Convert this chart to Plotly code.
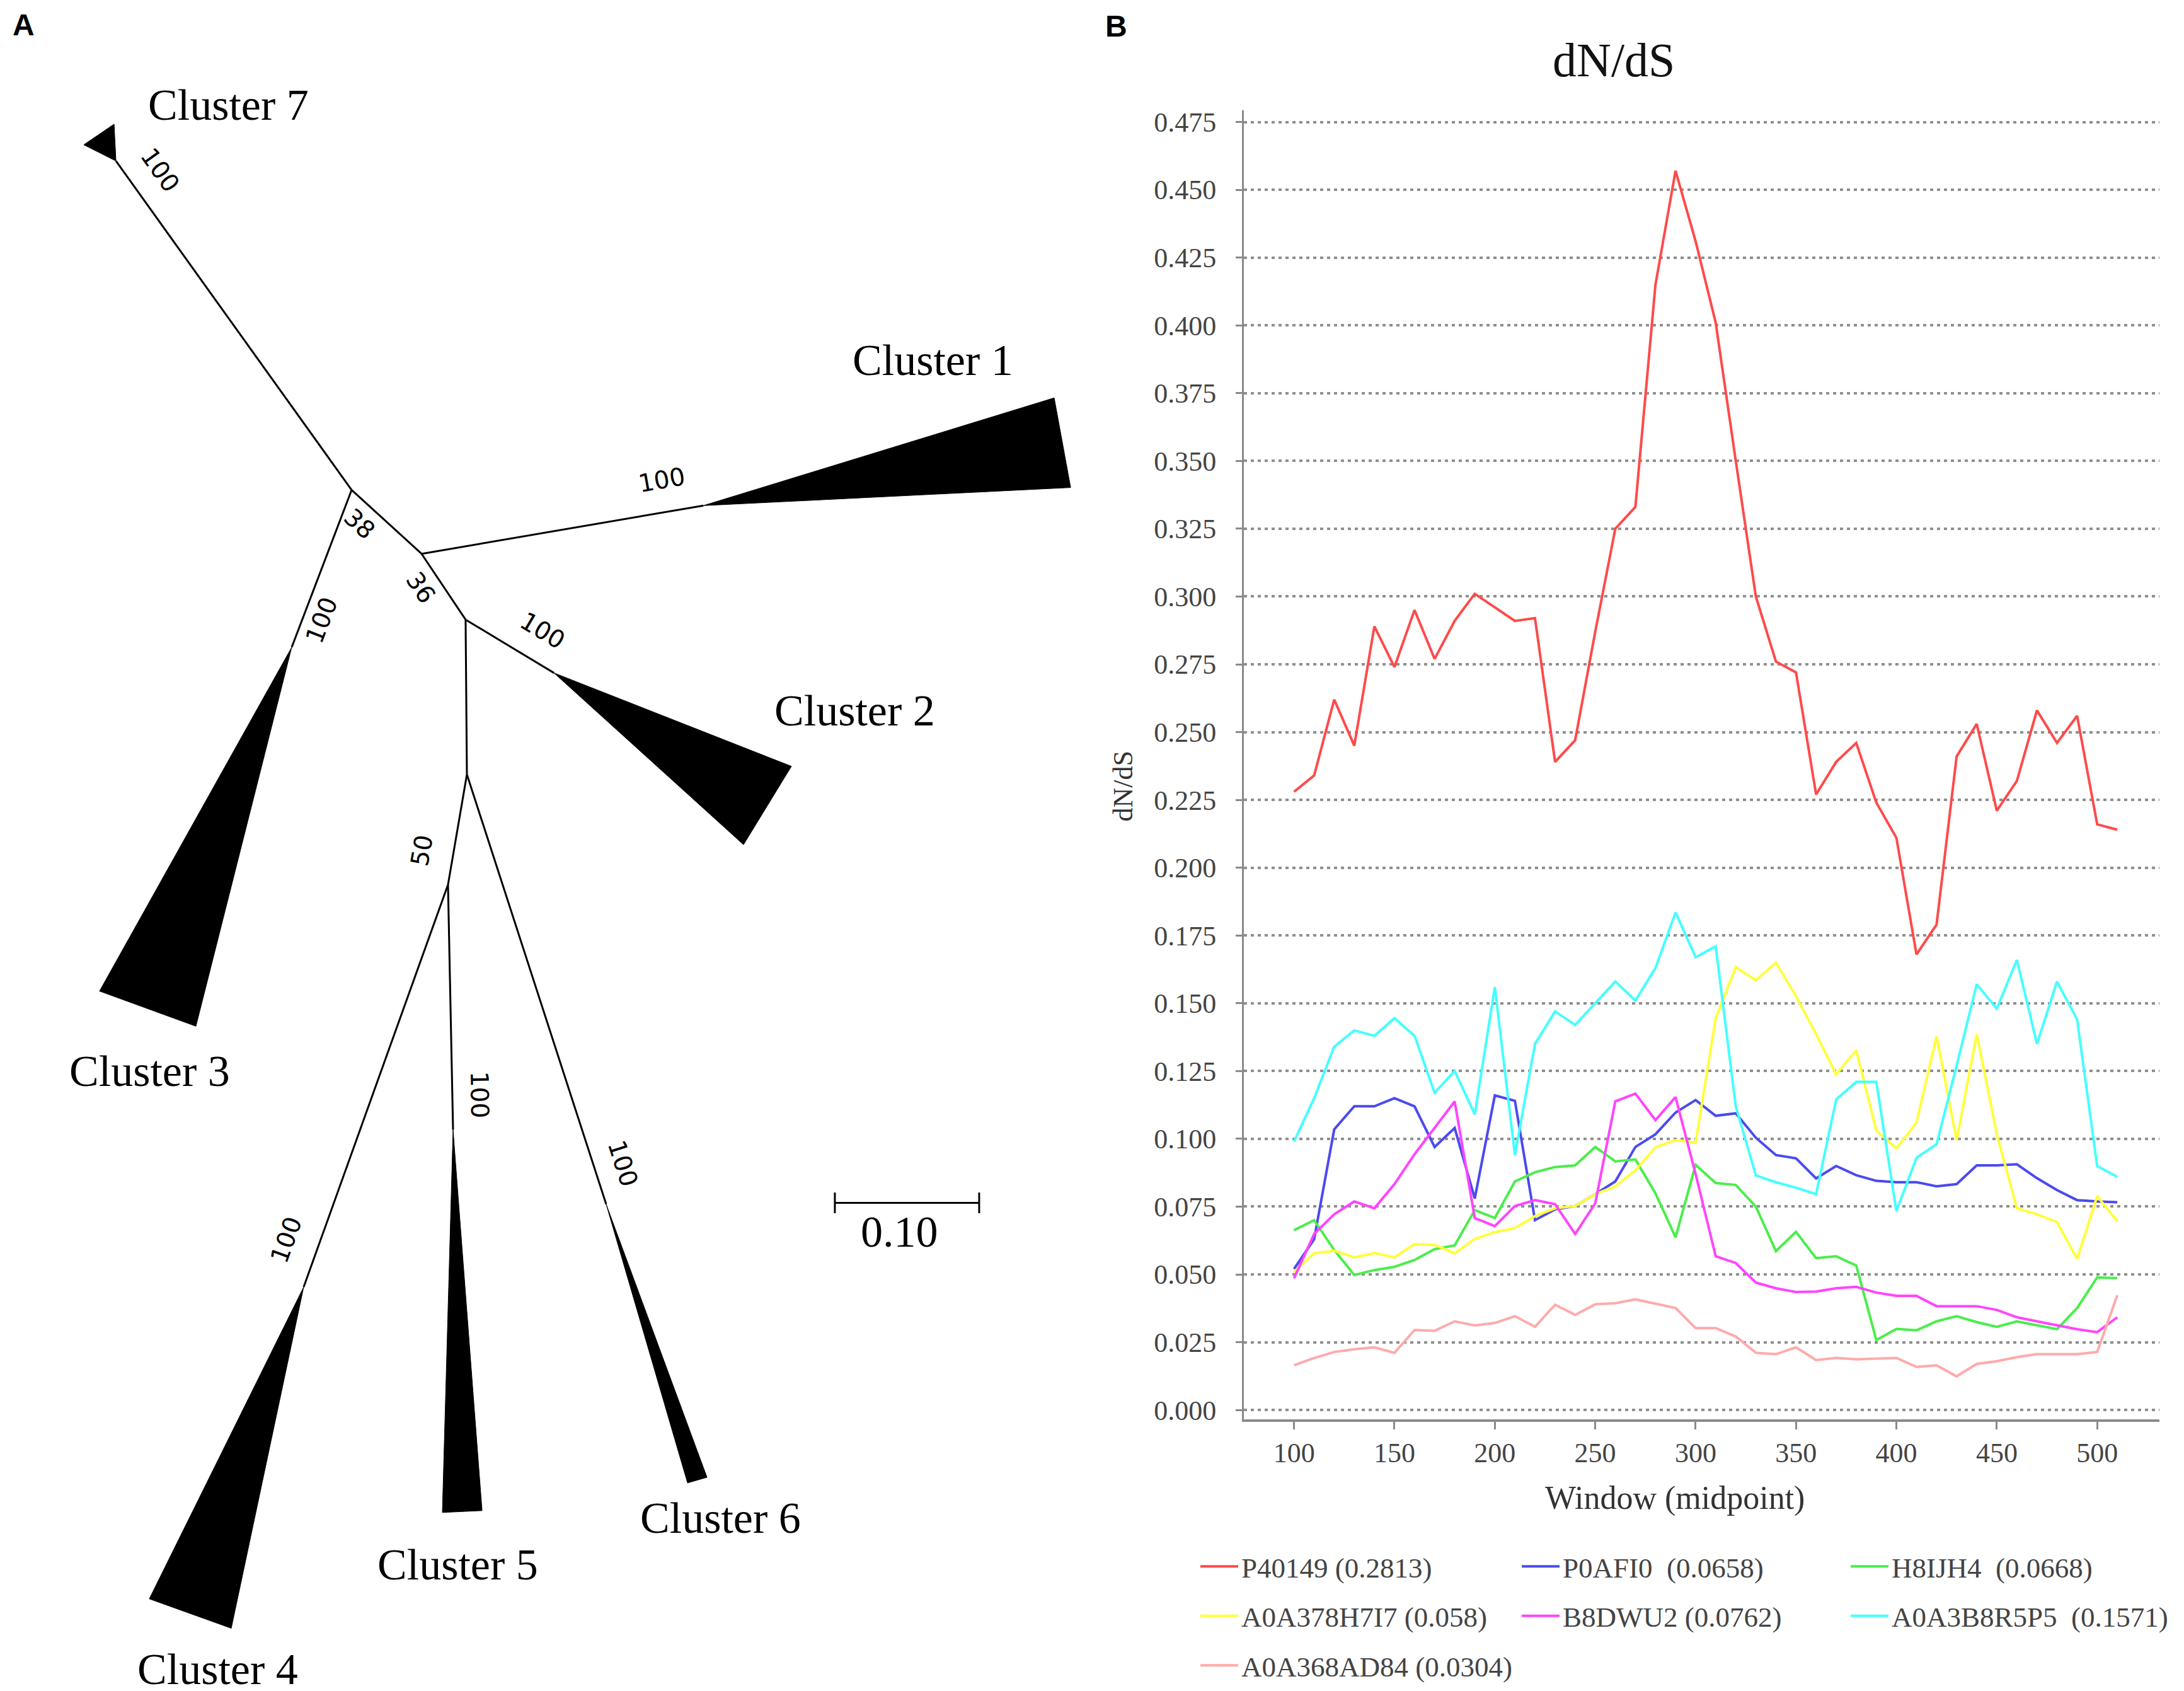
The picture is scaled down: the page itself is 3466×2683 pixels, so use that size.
import plotly.graph_objects as go

# ---------------- Panel B data: dN/dS sliding windows ----------------
window_mid = [100, 110, 120, 130, 140, 150, 160, 170, 180, 190, 200, 210, 220, 230,
              240, 250, 260, 270, 280, 290, 300, 310, 320, 330, 340, 350, 360, 370,
              380, 390, 400, 410, 420, 430, 440, 450, 460, 470, 480, 490, 500, 510]

p40149 = [0.228, 0.234, 0.262, 0.245, 0.289, 0.274, 0.295, 0.277, 0.291, 0.301, 0.296, 0.291,
          0.292, 0.239, 0.247, 0.287, 0.325, 0.333, 0.415, 0.457, 0.431, 0.401, 0.350, 0.300,
          0.276, 0.272, 0.227, 0.239, 0.246, 0.224, 0.211, 0.168, 0.179, 0.241, 0.253, 0.221,
          0.232, 0.258, 0.246, 0.256, 0.216, 0.214]
p0afi0 = [0.052, 0.063, 0.1035, 0.112, 0.112, 0.115, 0.112, 0.097, 0.104, 0.078, 0.116, 0.114,
          0.070, 0.074, 0.0752, 0.0796, 0.0843, 0.097, 0.1017, 0.1097, 0.1143, 0.1085, 0.1094, 0.1004,
          0.094, 0.0928, 0.0854, 0.090, 0.0866, 0.0845, 0.084, 0.084, 0.0825, 0.0833, 0.0902, 0.0902,
          0.0906, 0.0855, 0.0811, 0.0774, 0.0769, 0.0766]
h8ijh4 = [0.0663, 0.070, 0.059, 0.0498, 0.0516, 0.0528, 0.0553, 0.0593, 0.0607, 0.0737, 0.0708, 0.0843,
          0.0877, 0.0896, 0.0902, 0.097, 0.0917, 0.0924, 0.0799, 0.0637, 0.0904, 0.0837, 0.0830, 0.075,
          0.0586, 0.0657, 0.056, 0.0567, 0.0533, 0.0258, 0.0299, 0.0294, 0.0327, 0.0346, 0.0324, 0.0307,
          0.0327, 0.0312, 0.0298, 0.0376, 0.0489, 0.0486]
a0a378h7i7 = [0.0509, 0.0578, 0.0587, 0.0563, 0.0579, 0.0563, 0.0612, 0.0609, 0.0578, 0.0631, 0.0656, 0.0671,
              0.0715, 0.0744, 0.0752, 0.0796, 0.0825, 0.0884, 0.0969, 0.0995, 0.0986, 0.1445, 0.1633, 0.1585,
              0.165, 0.1526, 0.1386, 0.1238, 0.1327, 0.103, 0.0965, 0.106, 0.1378, 0.0995, 0.1386, 0.1017,
              0.0744, 0.0722, 0.0693, 0.0557, 0.0789, 0.0696]
b8dwu2 = [0.0486, 0.0649, 0.0722, 0.0769, 0.0744, 0.0833, 0.0943, 0.1039, 0.1138, 0.0708, 0.0678, 0.0752,
          0.0774, 0.0759, 0.0649, 0.0762, 0.1138, 0.1167, 0.1069, 0.1154, 0.087, 0.0567, 0.0542, 0.047,
          0.0449, 0.0435, 0.0437, 0.0449, 0.0454, 0.0433, 0.0421, 0.0421, 0.0383, 0.0383, 0.0383, 0.0369,
          0.0342, 0.0327, 0.0312, 0.0298, 0.0287, 0.0342]
a0a3b8r5p5 = [0.099, 0.115, 0.134, 0.140, 0.138, 0.1445, 0.138, 0.117, 0.125, 0.109, 0.156, 0.094,
              0.135, 0.147, 0.142, 0.150, 0.158, 0.151, 0.163, 0.1835, 0.167, 0.171, 0.112, 0.0865,
              0.084, 0.082, 0.0796, 0.1145, 0.121, 0.121, 0.0734, 0.093, 0.098, 0.127, 0.157, 0.148,
              0.166, 0.135, 0.158, 0.144, 0.090, 0.086]
a0a368ad84 = [0.0165, 0.0192, 0.0214, 0.0224, 0.0231, 0.0211, 0.0295, 0.0292, 0.0327, 0.0312, 0.0321, 0.0346,
              0.0307, 0.0388, 0.0351, 0.039, 0.0394, 0.0408, 0.0392, 0.0376, 0.0302, 0.0302, 0.0271, 0.0211,
              0.0206, 0.0231, 0.0184, 0.0192, 0.0187, 0.0189, 0.0192, 0.0159, 0.0165, 0.0124, 0.017, 0.018,
              0.0195, 0.0206, 0.0206, 0.0206, 0.0214, 0.0423]

series_names = ["P40149 (0.2813)", "P0AFI0\u00a0 (0.0658)", "H8IJH4\u00a0 (0.0668)",
                "A0A378H7I7 (0.058)", "B8DWU2 (0.0762)", "A0A3B8R5P5\u00a0 (0.1571)",
                "A0A368AD84 (0.0304)"]
series_values = [p40149, p0afi0, h8ijh4, a0a378h7i7, b8dwu2, a0a3b8r5p5, a0a368ad84]
series_colors = ["#ff4a4a", "#4a4af0", "#4aee4a", "#ffff3a", "#ff44ff", "#44ffff", "#ffaaaa"]
series_legend = ["legend", "legend2", "legend3", "legend", "legend2", "legend3", "legend"]

y_ticks = [0.000, 0.025, 0.050, 0.075, 0.100, 0.125, 0.150, 0.175, 0.200, 0.225, 0.250,
           0.275, 0.300, 0.325, 0.350, 0.375, 0.400, 0.425, 0.450, 0.475]
x_ticks = [100, 150, 200, 250, 300, 350, 400, 450, 500]

# ---------------- Panel A data: unrooted tree (branch-length units) ----------------
node_names = ["A", "B", "C", "D", "E"]
node_x = [0.0, 0.0485, 0.0790, 0.0799, 0.0668]
node_y = [0.0, -0.0445, -0.0904, -0.1983, -0.2751]
internal_edges = [("A", "B"), ("B", "C"), ("C", "D"), ("D", "E")]

clusters = ["Cluster 1", "Cluster 2", "Cluster 3", "Cluster 4", "Cluster 5", "Cluster 6", "Cluster 7"]
clade_parent = ["B", "C", "A", "E", "E", "D", "A"]
clade_apex_x = [0.2437, 0.1402, -0.0415, -0.0332, 0.0703, 0.1764, -0.1633]
clade_apex_y = [-0.0109, -0.1275, -0.1096, -0.5555, -0.4459, -0.4978, 0.2293]
clade_tip1_x = [0.4869, 0.3048, -0.1747, -0.1402, 0.0629, 0.2463, -0.1856]
clade_tip1_y = [0.0642, -0.1926, -0.3493, -0.7729, -0.7127, -0.6882, 0.2406]
clade_tip2_x = [0.4983, 0.2716, -0.1079, -0.0834, 0.0904, 0.2328, -0.1646]
clade_tip2_y = [0.0017, -0.2472, -0.3738, -0.7934, -0.7114, -0.6921, 0.2550]
cluster_label_x = [0.4030, 0.3485, -0.1400, -0.0928, 0.0735, 0.2558, -0.0852]
cluster_label_y = [0.0905, -0.1538, -0.4051, -0.8218, -0.7489, -0.7166, 0.2683]

bootstrap_values = ["100", "100", "38", "36", "100", "100", "50", "100", "100", "100"]
bootstrap_x = [-0.1328, 0.2150, 0.0057, 0.0480, -0.0210, 0.1324, 0.0485, 0.0886, 0.1878, -0.0454]
bootstrap_y = [0.2231, 0.0070, -0.0236, -0.0681, -0.0908, -0.0979, -0.2511, -0.4214, -0.4694, -0.5227]
bootstrap_angle = [54.5, -10, 43, 56, -69, 31, -80, 89, 72, -70]

scale_bar_x0 = 0.3349
scale_bar_y = -0.4969
scale_bar_len = 0.10
scale_bar_label = "0.10"

# ---------------- Figure ----------------
W, H = 3466, 2683
SERIF = "Liberation Serif"
fig = go.Figure()

# Panel B lines
for name, vals, col, lg in zip(series_names, series_values, series_colors, series_legend):
    fig.add_trace(go.Scatter(x=window_mid, y=vals, mode="lines", name=name, legendgroup=name,
                             line=dict(color=col, width=4), legend=lg,
                             xaxis="x", yaxis="y", hoverinfo="skip"))

# Panel A tree
node_pos = {n: (x, y) for n, x, y in zip(node_names, node_x, node_y)}
ex, ey = [], []
for a, b in internal_edges:
    ex += [node_pos[a][0], node_pos[b][0], None]
    ey += [node_pos[a][1], node_pos[b][1], None]
for i in range(len(clusters)):
    px_, py_ = node_pos[clade_parent[i]]
    ex += [px_, clade_apex_x[i], None]
    ey += [py_, clade_apex_y[i], None]
fig.add_trace(go.Scatter(x=ex, y=ey, mode="lines", line=dict(color="black", width=3),
                         xaxis="x2", yaxis="y2", showlegend=False, hoverinfo="skip"))
for i in range(len(clusters)):
    fig.add_trace(go.Scatter(
        x=[clade_apex_x[i], clade_tip1_x[i], clade_tip2_x[i], clade_apex_x[i]],
        y=[clade_apex_y[i], clade_tip1_y[i], clade_tip2_y[i], clade_apex_y[i]],
        mode="lines", fill="toself", fillcolor="black", line=dict(color="black", width=1),
        xaxis="x2", yaxis="y2", showlegend=False, hoverinfo="skip"))

# scale bar
tick_h = 0.0072
fig.add_trace(go.Scatter(
    x=[scale_bar_x0, scale_bar_x0 + scale_bar_len, None, scale_bar_x0, scale_bar_x0, None,
       scale_bar_x0 + scale_bar_len, scale_bar_x0 + scale_bar_len],
    y=[scale_bar_y, scale_bar_y, None, scale_bar_y - tick_h, scale_bar_y + tick_h, None,
       scale_bar_y - tick_h, scale_bar_y + tick_h],
    mode="lines", line=dict(color="black", width=3),
    xaxis="x2", yaxis="y2", showlegend=False, hoverinfo="skip"))

annotations = []
for lab, lx, ly in zip(clusters, cluster_label_x, cluster_label_y):
    annotations.append(dict(x=lx, y=ly, xref="x2", yref="y2", text=lab, showarrow=False,
                            xanchor="center", yanchor="middle",
                            font=dict(family=SERIF, size=70, color="black")))
for v, bx, by, ang in zip(bootstrap_values, bootstrap_x, bootstrap_y, bootstrap_angle):
    annotations.append(dict(x=bx, y=by, xref="x2", yref="y2", text=v, showarrow=False,
                            xanchor="center", yanchor="middle",
                            textangle=ang, font=dict(family="DejaVu Sans", size=39, color="black")))
annotations.append(dict(x=scale_bar_x0 + scale_bar_len / 2 - 0.005, y=scale_bar_y - 0.020,
                        xref="x2", yref="y2", text=scale_bar_label, showarrow=False,
                        xanchor="center", yanchor="middle",
                        font=dict(family=SERIF, size=70, color="black")))

# panel letters and titles
def paper_note(px, py, text, size, family, color, angle=0):
    return dict(x=px / W, y=1 - py / H, xref="paper", yref="paper", text=text, showarrow=False,
                xanchor="center", yanchor="middle", textangle=angle,
                font=dict(family=family, size=size, color=color))

annotations += [
    paper_note(29, 27, "<b>A</b>", 48, "Liberation Sans", "black"),
    paper_note(1763, 29, "<b>B</b>", 48, "Liberation Sans", "black"),
    paper_note(2553, 82, "dN/dS", 76, SERIF, "#111111"),
    paper_note(2650, 2378, "Window (midpoint)", 52, SERIF, "#333333"),
    paper_note(1775, 1242, "dN/dS", 44, SERIF, "#333333", angle=-90),
]

# tree axes ranges (px per unit keeps the tree undistorted)
PX_PER_UNIT = 2290.0
tree_left_px, tree_width_px = 0.0, 1750.0
tree_origin_px = (550.0, 769.0)
x2_range = [(tree_left_px - tree_origin_px[0]) / PX_PER_UNIT,
            (tree_left_px + tree_width_px - tree_origin_px[0]) / PX_PER_UNIT]
y2_range = [(tree_origin_px[1] - H) / PX_PER_UNIT, tree_origin_px[1] / PX_PER_UNIT]

legend_common = dict(orientation="v", yanchor="top", xanchor="left", bgcolor="rgba(0,0,0,0)",
                     font=dict(family=SERIF, size=45, color="#444444"), itemwidth=60,
                     tracegroupgap=17)

fig.update_layout(
    width=W, height=H, margin=dict(l=0, r=0, t=0, b=0),
    paper_bgcolor="white", plot_bgcolor="white",
    showlegend=True,
    xaxis=dict(domain=[1966 / W, 3419 / W], range=[75, 531], tickvals=x_ticks,
               showgrid=False, zeroline=False, showline=True, linecolor="#8a8a8a", linewidth=4,
               ticks="outside", ticklen=12, tickwidth=3, tickcolor="#8a8a8a",
               tickfont=dict(family=SERIF, size=44, color="#444444"), anchor="y"),
    yaxis=dict(domain=[1 - 2252 / H, 1 - 163 / H], range=[-0.00335, 0.4793], tickvals=y_ticks,
               tickformat=".3f", showgrid=True, gridcolor="#8f8f8f", gridwidth=3.5,
               griddash="5px,6px", zeroline=False, showline=True, linecolor="#8a8a8a",
               linewidth=3, ticks="outside", ticklen=10, tickwidth=3, tickcolor="#8a8a8a",
               ticklabelstandoff=22,
               tickfont=dict(family=SERIF, size=44, color="#444444"), anchor="x"),
    xaxis2=dict(domain=[0, tree_width_px / W], range=x2_range, visible=False, anchor="y2"),
    yaxis2=dict(domain=[0, 1], range=y2_range, visible=False, anchor="x2"),
    legend=dict(x=1892 / W, y=1 - 2451 / H, **legend_common),
    legend2=dict(x=2402 / W, y=1 - 2451 / H, **legend_common),
    legend3=dict(x=2924 / W, y=1 - 2451 / H, **legend_common),
    annotations=annotations,
)

fig.write_html("out.html")
